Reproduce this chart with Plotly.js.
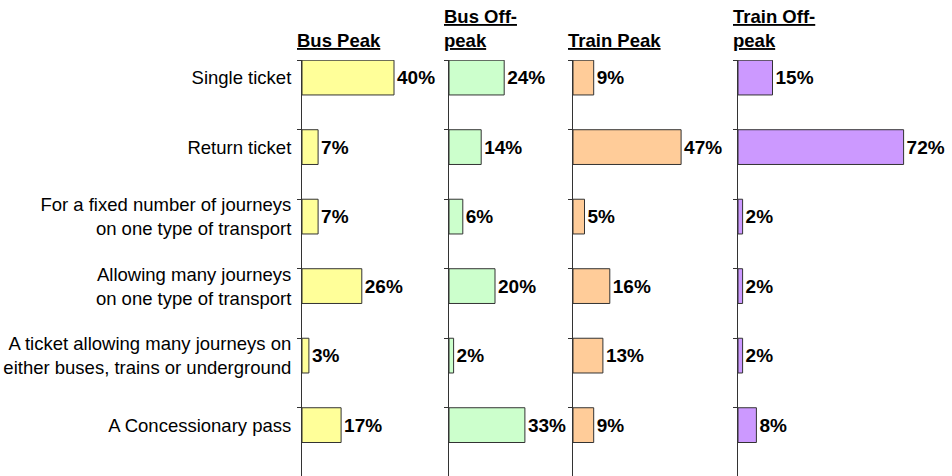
<!DOCTYPE html>
<html>
<head>
<meta charset="utf-8">
<script src="https://cdn.plot.ly/plotly-3.0.1.min.js"></script>
<style>html,body{margin:0;padding:0;background:#fff;}#chart{width:952px;height:476px;}</style>
</head>
<body>
<div id="chart"></div>
<script>
const categories = [
  "Single ticket",
  "Return ticket",
  "For a fixed number of journeys<br>on one type of transport",
  "Allowing many journeys<br>on one type of transport",
  "A ticket allowing many journeys on<br>either buses, trains or underground",
  "A Concessionary pass"
];
const panelTitles = ["Bus Peak", "Bus Off-<br>peak", "Train Peak", "Train Off-<br>peak"];
const busPeak = [40, 7, 7, 26, 3, 17];
const busOffPeak = [24, 14, 6, 20, 2, 33];
const trainPeak = [9, 47, 5, 16, 13, 9];
const trainOffPeak = [15, 72, 2, 2, 2, 8];
const series = [busPeak, busOffPeak, trainPeak, trainOffPeak];
const colors = ["#FFFF99", "#CCFFCC", "#FFCC99", "#CC99FF"];

const W = 952, H = 476;
const pxPerPct = 2.3;
const panelPx = [[302, 448], [449, 572], [573, 737], [738, 952]];
const idx = categories.map((c, i) => i);
const FONT = "Liberation Sans, Arial, sans-serif";

const data = [];
const layout = {
  width: W, height: H,
  margin: {l: 0, r: 0, t: 60, b: 0},
  paper_bgcolor: "#fff", plot_bgcolor: "rgba(0,0,0,0)",
  showlegend: false,
  font: {family: FONT, color: "#000"},
  annotations: []
};

series.forEach((vals, k) => {
  const n = k === 0 ? "" : String(k + 1);
  data.push({
    type: "bar", orientation: "h",
    x: vals, y: idx,
    xaxis: "x" + n, yaxis: "y" + n,
    width: 0.5,
    marker: {color: colors[k], line: {color: "#333", width: 1}},
    texttemplate: "%{x}%", textposition: "outside",
    textfont: {family: FONT, size: 19, weight: "bold", color: "#000"},
    constraintext: "none", cliponaxis: false,
    hoverinfo: "skip"
  });
  const [a, b] = panelPx[k];
  layout["xaxis" + n] = {
    domain: [a / W, b / W],
    range: [0, (b - a) / pxPerPct],
    anchor: "y" + n,
    visible: false, fixedrange: true
  };
  const ya = {
    anchor: "x" + n,
    range: [5.732, -0.253],
    showgrid: false, zeroline: false,
    showline: true, linecolor: "#333", linewidth: 1,
    tickmode: "array", tickvals: idx,
    ticktext: k === 0 ? categories : categories.map(() => ""),
    ticks: "",
    ticklabelstandoff: 6,
    tickfont: {family: FONT, size: 18.5, color: "#000"},
    minor: {tickmode: "array", tickvals: idx.map(i => i - 0.25), ticks: "outside", ticklen: 4, tickcolor: "#333", tickwidth: 1, showgrid: false},
    fixedrange: true
  };
  if (k > 0) ya.matches = "y";
  layout["yaxis" + n] = ya;
  layout.annotations.push({
    xref: "x" + n + " domain", yref: "paper",
    x: 0, y: 1, xanchor: "left", yanchor: "bottom", align: "left",
    xshift: -7, yshift: 7,
    showarrow: false,
    text: panelTitles[k].split("<br>").map(s => "<b><u>" + s + "</u></b>").join("<br>"),
    font: {family: FONT, size: 18.5, color: "#000"}
  });
});

Plotly.newPlot("chart", data, layout, {displayModeBar: false, staticPlot: true});
</script>
</body>
</html>
